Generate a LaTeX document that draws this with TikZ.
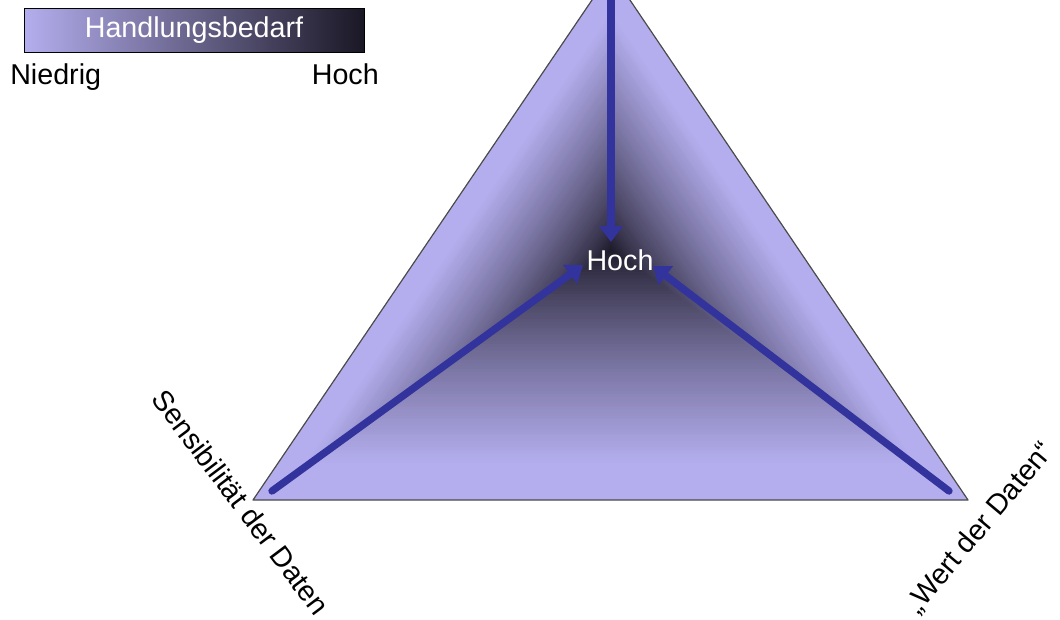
\documentclass[tikz,border=0pt]{standalone}
\usepackage{fontspec}
\setmainfont{Liberation Sans}
\usepackage{tikz}
\usetikzlibrary{calc,arrows.meta}
\definecolor{lavend}{HTML}{B4AEEE}
\definecolor{deepnavy}{HTML}{1A1725}
\definecolor{arrowblue}{HTML}{32339C}
\definecolor{rimgrey}{HTML}{4A4A4A}
\tikzset{
  pointer/.style={arrowblue,line width=5.5pt,line cap=round,-{Triangle[length=12pt,width=17pt]}},
  rim/.style={rimgrey,line width=0.9pt,line join=round},
  lbl/.style={font=\fontsize{21.5}{24}\selectfont,inner sep=0pt},
  legendbar/.style={draw=black,line width=0.75pt,left color=lavend,right color=deepnavy,
    minimum width=255pt,minimum height=33pt,text=white},
}

\begin{document}
\begin{tikzpicture}[x=0.75pt,y=-0.75pt]
      \useasboundingbox (0,0) rectangle (1060,619);
      \clip (0,0) rectangle (1060,619);
      \coordinate (apex) at (611,-28); \coordinate (leftv) at (253,500);
      \coordinate (rightv) at (968,500); \coordinate (ctr) at (611,250);
      \foreach \i in {80,79,...,1}{
        \pgfmathsetmacro\s{\i/80}
        \pgfmathtruncatemacro\pct{min(100,round(100*(\s/0.86)^0.8))}
        \fill[lavend!\pct!deepnavy] ($(ctr)!\s!(apex)$) -- ($(ctr)!\s!(leftv)$) -- ($(ctr)!\s!(rightv)$) -- cycle;
      }
      \draw[rim] (apex) -- (leftv) -- (rightv) -- cycle;
      \node[legendbar,lbl,minimum width=255pt,minimum height=33pt] (legend) at (194,30) {Handlungsbedarf};
      \node[lbl,anchor=base west] (lowend) at (10,84) {Niedrig};
      \node[lbl,anchor=base east] (highend) at (379,84) {Hoch};
      \coordinate (topstart) at (611,-5); \coordinate (tiptop) at (611,242);
      \coordinate (leftstart) at (272,491); \coordinate (tipleft) at (583,265);
      \coordinate (rightstart) at (949,491); \coordinate (tipright) at (653,266);
      \draw[pointer] (topstart) -- (tiptop);
      \draw[pointer] (leftstart) -- (tipleft);
      \draw[pointer] (rightstart) -- (tipright);
      \node[lbl,text=white] (hoch) at (620,260) {Hoch};
      \node[lbl,rotate=-53] (sens) at (241,502) {Sensibilität der Daten};
      \node[lbl,rotate=50] (wert) at (980,528) {„Wert der Daten“};
    \end{tikzpicture}
\end{document}
